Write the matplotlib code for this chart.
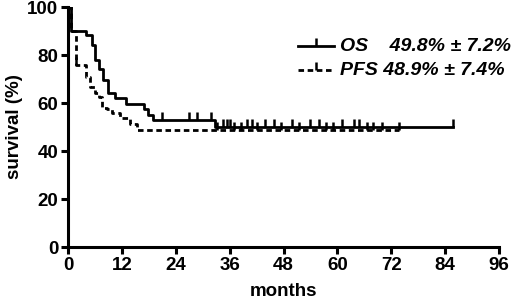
import numpy as np
from matplotlib import pyplot as plt

# Kaplan-Meier steps (months, survival %)
os_t = [0, 0.7, 4.1, 5.3, 6.1, 7.0, 7.9, 8.8, 10.5, 13.0, 17.0, 17.9, 18.9, 32.8, 85.7]
os_s = [100, 90, 88.3, 84.0, 78.0, 74.0, 69.6, 64.0, 62.0, 59.5, 57.3, 55.1, 52.9, 49.8, 49.8]
os_cens = [20.9, 26.9, 28.8, 31.9, 34.5, 35.4, 36.1, 39.9, 40.9, 43.9, 45.9, 49.8,
           53.9, 55.9, 61.0, 63.7, 64.8, 85.7]

pfs_t = [0, 0.7, 1.8, 3.9, 5.0, 6.1, 6.8, 7.5, 8.6, 9.8, 11.5, 13.8, 15.4, 73.7]
pfs_s = [100, 90, 75.8, 70.8, 66.6, 64.3, 62.6, 58.0, 57.4, 55.8, 53.9, 51.2, 48.9, 48.9]
pfs_cens = [1.8, 33.1, 37.0, 38.5, 42.0, 47.5, 51.5, 57.5, 59.0, 66.5, 68.0, 70.0, 73.7]

plt.rcParams['font.family'] = ['Liberation Sans', 'DejaVu Sans']
plt.rcParams['font.weight'] = 'bold'

fig = plt.figure(figsize=(5.2, 3.01), dpi=100)
ax = fig.add_axes([68/520, 1-247/301, 431/520, 240/301])

def km_curve(t, s, cens, ls):
    ax.step(t, s, where='post', color='black', lw=2, ls=ls)
    # survival at censor time = last step value at or before
    cy = [s[np.searchsorted(t, c, side='right') - 1] for c in cens]
    ax.plot(cens, cy, ls='none', marker=2, ms=6, mew=1.8, color='black')

km_curve(os_t, os_s, os_cens, '-')
km_curve(pfs_t, pfs_s, pfs_cens, (0, (2, 1.3)))

ax.set_xlim(0, 96)
ax.set_ylim(0, 100)
ax.set_xticks(np.arange(0, 97, 12))
ax.set_yticks(np.arange(0, 101, 20))
for sp in ['top', 'right']:
    ax.spines[sp].set_visible(False)
for sp in ['left', 'bottom']:
    ax.spines[sp].set_linewidth(2.2)
ax.tick_params(width=2.2, length=5, labelsize=13.5, pad=2)
ax.set_xlabel('months', fontsize=13.5, fontweight='bold', labelpad=7)
ax.set_ylabel('survival (%)', fontsize=13.5, fontweight='bold', labelpad=3)

# legend drawn by hand
ax.plot([51.2, 59.2], [83.7, 83.7], color='black', lw=2)
ax.plot([55.2], [83.7], marker=2, ms=6, mew=1.8, color='black')
ax.plot([51.2, 59.2], [73.7, 73.7], color='black', lw=2, ls=(0, (2, 1.3)))
ax.plot([55.2], [73.7], marker=2, ms=6, mew=1.8, color='black')
ax.text(60.6, 83.7, 'OS    49.8% ± 7.2%', fontsize=14, fontweight='bold',
        style='italic', va='center', ha='left')
ax.text(60.6, 73.7, 'PFS 48.9% ± 7.4%', fontsize=14, fontweight='bold',
        style='italic', va='center', ha='left')

fig.savefig('out.png', dpi=100)
